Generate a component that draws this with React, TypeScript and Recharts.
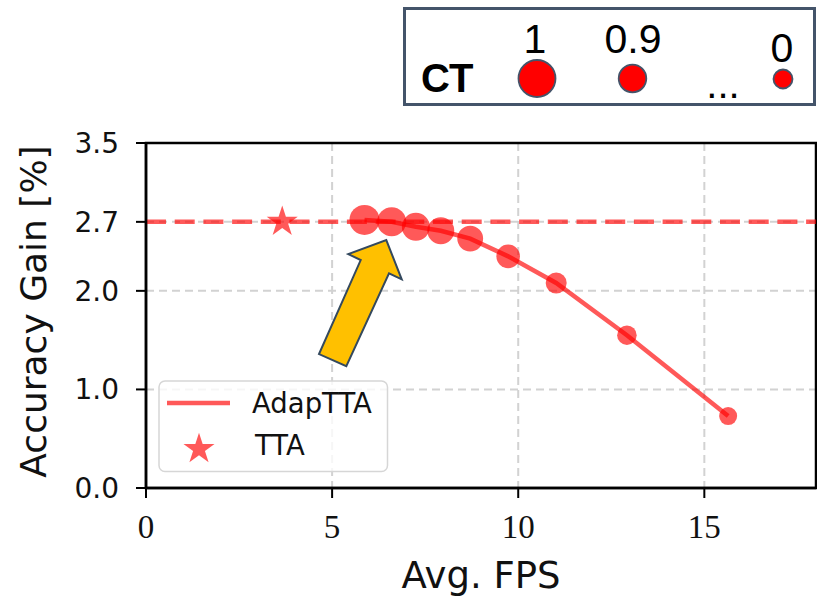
import React from 'react';
import {
  ComposedChart,
  Line,
  Scatter,
  XAxis,
  YAxis,
  ZAxis,
  CartesianGrid,
  ReferenceLine,
  ReferenceArea,
  ReferenceDot,
  Symbols,
  Label,
} from 'recharts';

// ---- data ----
const fpsValues = [5.87, 6.6, 7.25, 7.92, 8.71, 9.73, 11.02, 12.92, 15.64];
const accGain = [2.72, 2.7, 2.65, 2.61, 2.53, 2.35, 2.08, 1.55, 0.73];
const ctValues = [1, 0.9, 0.8, 0.7, 0.6, 0.4, 0.2, 0.1, 0];

const ttaFps = [3.66];
const ttaAcc = [2.7];
const ttaReference = 2.7;

const xTicks = [0, 5, 10, 15];
const yTicks = [0, 1, 2, 2.7, 3.5];
const yTickLabels = ['0.0', '1.0', '2.0', '2.7', '3.5'];

const ctLegendLabels = ['1', '0.9', '0'];
const seriesNames = ['AdapTTA', 'TTA'];
const axisTitles = { x: 'Avg. FPS', y: 'Accuracy Gain [%]' };

const arrowTip = { fps: 6.456, acc: 2.515 };

const data = fpsValues.map((fps, i) => ({ fps, acc: accGain[i], ct: ctValues[i] }));
const ttaData = ttaFps.map((fps, i) => ({ fps, acc: ttaAcc[i] }));

// ---- styles ----
const SANS = '"DejaVu Sans", sans-serif';
const SERIF = '"Liberation Serif", serif';
const OFFICE = '"Liberation Sans", Arial, sans-serif';
const RED = '#ff0000';
const ALPHA = 0.65;

const ArrowShape = (props: any) => {
  const { cx, cy } = props;
  const pts = [
    [0, 0],
    [15.4, 39.3],
    [2.7, 33.3],
    [-40, 126],
    [-67.3, 114],
    [-25.6, 20],
    [-38, 14],
  ];
  return (
    <polygon
      points={pts.map(([dx, dy]) => `${cx + dx},${cy + dy}`).join(' ')}
      fill="#FFC000"
      stroke="#34495E"
      strokeWidth={2}
    />
  );
};

const InnerLegend = () => (
  <svg width={231} height={93} style={{ position: 'absolute', left: 158, top: 380, display: 'block' }}>
    <rect x={1} y={1} width={228.5} height={90.5} rx={6} ry={6}
      fill="rgba(255,255,255,0.8)" stroke="#d6d6d6" strokeWidth={1.5} />
    <line x1={9} y1={23} x2={72} y2={23} stroke={RED} strokeOpacity={ALPHA} strokeWidth={4.5} />
    <text x={94} y={33} fontFamily={SANS} fontSize={27.5} fill="#111">{seriesNames[0]}</text>
    <Symbols cx={41} cy={69} type="star" size={300} fill={RED} fillOpacity={ALPHA} />
    <text x={97} y={75} fontFamily={SANS} fontSize={27.5} fill="#111">{seriesNames[1]}</text>
  </svg>
);

const CTBox = () => (
  <svg
    width={817}
    height={110}
    style={{ position: 'absolute', left: 0, top: 0, display: 'block' }}
  >
    <rect x={404.5} y={8.5} width={410} height={96} fill="#fff" stroke="#44546A" strokeWidth={3} />
    <text x={421} y={92} fontFamily={OFFICE} fontWeight="bold" fontSize={40} fill="#000" letterSpacing={-1}>CT</text>
    <circle cx={537} cy={78.5} r={18.5} fill="#FF0000" stroke="#44546A" strokeWidth={1.8} />
    <circle cx={632.5} cy={78.5} r={13.8} fill="#FF0000" stroke="#44546A" strokeWidth={1.8} />
    <circle cx={783} cy={79} r={9.5} fill="#FF0000" stroke="#44546A" strokeWidth={1.8} />
    <text x={535} y={53} textAnchor="middle" fontFamily={OFFICE} fontSize={41} fill="#000">{ctLegendLabels[0]}</text>
    <text x={633} y={53} textAnchor="middle" fontFamily={OFFICE} fontSize={41} fill="#000">{ctLegendLabels[1]}</text>
    <text x={782} y={62} textAnchor="middle" fontFamily={OFFICE} fontSize={41} fill="#000">{ctLegendLabels[2]}</text>
    <text x={723} y={98} textAnchor="middle" fontFamily={OFFICE} fontSize={40} fill="#000">...</text>
  </svg>
);

export default function App() {
  return (
    <div style={{ position: 'absolute', left: 0, top: 0, width: 817, height: 597, background: '#fff', overflow: 'hidden' }}>
      <ComposedChart
        width={817}
        height={597}
        data={data}
        margin={{ top: 143, right: 1, bottom: 0, left: 0 }}
      >
        <CartesianGrid stroke="#d2d2d2" strokeWidth={2} strokeDasharray="8 5" />
        <XAxis
          type="number"
          dataKey="fps"
          domain={[0, 18]}
          ticks={xTicks}
          allowDataOverflow
          height={109}
          tickSize={10}
          tickMargin={17}
          axisLine={{ stroke: '#000', strokeWidth: 2.5 }}
          tickLine={{ stroke: '#000', strokeWidth: 2 }}
          tick={{ fontFamily: SERIF, fontSize: 33, fill: '#111' }}
        >
          <Label
            content={(p: any) => {
              const vb = p.viewBox;
              return (
                <text x={vb.x + vb.width / 2} y={vb.y + 100} textAnchor="middle"
                  fontFamily={SANS} fontSize={37} fill="#111">{axisTitles.x}</text>
              );
            }}
          />
        </XAxis>
        <YAxis
          type="number"
          domain={[0, 3.5]}
          ticks={yTicks}
          allowDataOverflow
          width={146}
          tickSize={10}
          tickMargin={17}
          axisLine={{ stroke: '#000', strokeWidth: 2.5 }}
          tickLine={{ stroke: '#000', strokeWidth: 2 }}
          tickFormatter={(v: number) => yTickLabels[yTicks.indexOf(v)] ?? String(v)}
          tick={{ fontFamily: SANS, fontSize: 28, fill: '#111' }}
        >
          <Label
            content={(p: any) => {
              const vb = p.viewBox;
              const cx = vb.x + 33;
              const cy = vb.y + vb.height / 2 - 4;
              return (
                <text x={cx} y={cy} transform={`rotate(-90, ${cx}, ${cy})`} textAnchor="middle"
                  dominantBaseline="central" fontFamily={SANS} fontSize={36} fill="#111">{axisTitles.y}</text>
              );
            }}
          />
        </YAxis>
        <ZAxis type="number" dataKey="ct" domain={[0, 1]} range={[81 * Math.PI, 225 * Math.PI]} zAxisId="ct" />
        <ZAxis type="number" range={[300, 300]} zAxisId="star" />
        <ReferenceLine
          y={ttaReference}
          stroke={RED}
          strokeOpacity={ALPHA}
          strokeWidth={4.5}
          strokeDasharray="20 8.7"
        />
        <Line
          dataKey="acc"
          name={seriesNames[0]}
          type="linear"
          stroke={RED}
          strokeOpacity={ALPHA}
          strokeWidth={4.5}
          dot={false}
          activeDot={false}
          isAnimationActive={false}
        />
        <Scatter
          data={data}
          dataKey="acc"
          zAxisId="ct"
          shape="circle"
          fill={RED}
          fillOpacity={ALPHA}
          isAnimationActive={false}
        />
        <Scatter
          data={ttaData}
          dataKey="acc"
          name={seriesNames[1]}
          zAxisId="star"
          shape="star"
          fill={RED}
          fillOpacity={ALPHA}
          isAnimationActive={false}
        />
        <ReferenceArea x1={0} x2={18} y1={0} y2={3.5} fill="none" fillOpacity={0} stroke="#000" strokeWidth={2.5} />
        <ReferenceDot x={arrowTip.fps} y={arrowTip.acc} shape={ArrowShape} />
      </ComposedChart>
      <InnerLegend />
      <CTBox />
    </div>
  );
}
